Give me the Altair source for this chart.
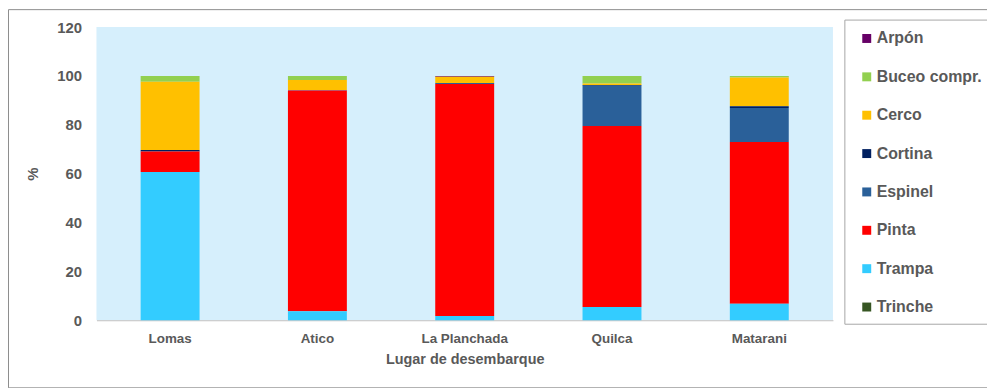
import altair as alt
import pandas as pd

sites = ["Lomas", "Atico", "La Planchada", "Quilca", "Matarani"]
gears = ["Arpón", "Buceo compr.", "Cerco", "Cortina", "Espinel", "Pinta", "Trampa", "Trinche"]
colors = ["#660066", "#92D050", "#FFC000", "#002060", "#2A6099", "#FF0000", "#33CCFF", "#375623"]

arpon   = [0.0, 0.0, 0.3, 0.0, 0.0]
buceo   = [2.4, 1.7, 0.0, 3.1, 0.6]
cerco   = [27.9, 4.1, 2.6, 0.6, 11.8]
cortina = [0.6, 0.0, 0.0, 0.3, 0.7]
espinel = [0.0, 0.2, 0.4, 16.5, 13.9]
pinta   = [8.4, 90.3, 95.0, 74.1, 66.2]
trampa  = [60.7, 3.7, 1.7, 5.4, 6.8]
trinche = [0.0, 0.0, 0.0, 0.0, 0.0]

series = [arpon, buceo, cerco, cortina, espinel, pinta, trampa, trinche]
rows = []
for g, i_vals in zip(gears, series):
    for s, v in zip(sites, i_vals):
        rows.append({"sitio": s, "arte": g, "pct": v, "orden": gears.index(g)})
df = pd.DataFrame(rows)

FONT = "Liberation Sans"
GREY = "#595959"

bars = alt.Chart(df).mark_bar().encode(
    x=alt.X("sitio:N", sort=sites, title="Lugar de desembarque",
            scale=alt.Scale(paddingInner=0.6, paddingOuter=0.3),
            axis=alt.Axis(labelAngle=0, ticks=False, domainColor="#BFBFBF",
                          labelFontSize=13.5, labelPadding=11, titlePadding=8,
                          titleFontSize=14.5)),
    y=alt.Y("pct:Q", stack="zero", title="%",
            scale=alt.Scale(domain=[0, 120], nice=False),
            axis=alt.Axis(values=[0, 20, 40, 60, 80, 100, 120], grid=False, ticks=False,
                          domain=False, labelPadding=15, titlePadding=16,
                          labelFontSize=15, titleFontSize=15)),
    color=alt.Color("arte:N", scale=alt.Scale(domain=gears, range=colors),
                    legend=alt.Legend(title=None, orient="none", legendX=767, legendY=3.5,
                                      symbolType="square", symbolSize=81, symbolStrokeWidth=0,
                                      labelFontSize=16, labelFont=FONT, labelFontWeight="bold",
                                      labelColor=GREY, rowPadding=22.6, labelOffset=2,
                                      padding=0)),
    order=alt.Order("orden:Q", sort="descending"),
)

legend_box = alt.Chart(alt.Data(values=[{}])).mark_rect(
    fill="white", stroke="#A6A6A6", strokeWidth=1
).encode(x=alt.value(753), x2=alt.value(1000), y=alt.value(-7), y2=alt.value(299))

frame = alt.Chart(alt.Data(values=[{}])).mark_rect(
    fill=None, stroke="#8C8C8C", strokeWidth=1
).encode(x=alt.value(-88.5), x2=alt.value(1000), y=alt.value(-17.5), y2=alt.value(363))

chart = alt.layer(frame, legend_box, bars).properties(
    width=741, height=295,
    autosize=alt.AutoSizeParams(type="none"),
    padding={"left": 89, "top": 18, "right": 155, "bottom": 67},
).configure_view(
    fill="#D6EFFC", stroke=None
).configure_axis(
    labelFont=FONT, labelFontSize=13, labelFontWeight="bold", labelColor=GREY,
    titleFont=FONT, titleFontWeight="bold", titleColor=GREY,
)

chart.save("out.html", embed_options={"renderer": "svg", "actions": False})
